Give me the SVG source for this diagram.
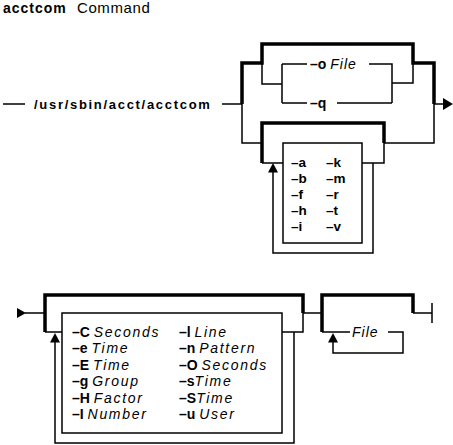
<svg xmlns="http://www.w3.org/2000/svg" width="453" height="445" viewBox="0 0 453 445">
<style>
.t{stroke:#000;stroke-width:1.5;fill:none}
.k{stroke:#000;stroke-width:3.5;fill:none;stroke-linejoin:miter}
.a{fill:#000}
text{font-family:"Liberation Sans",Arial,sans-serif;font-size:14px;fill:#000}
.b{font-weight:bold}
.i{font-style:italic;letter-spacing:1.7px}
.f{font-weight:bold;font-size:13.5px}
</style>
<rect width="453" height="445" fill="#fff"/>
<g id="title">
<text x="3" y="13" style="font-size:14px;letter-spacing:1px" class="b">acctcom</text>
<text x="77" y="13" style="font-size:15px;letter-spacing:0.6px">Command</text>
</g>
<g id="cmd"><text x="34" y="108.5" class="b" style="font-size:13px;letter-spacing:1.7px">/usr/sbin/acct/acctcom</text></g>
<g id="opt-o"><text x="310" y="69"><tspan class="b">–o</tspan> <tspan class="i" style="letter-spacing:1px">File</tspan></text></g>
<g id="opt-q"><text x="310" y="108" class="b">–q</text></g>
<g id="flags">
<rect x="283" y="143" width="79" height="100" class="t"/>
<text class="f" x="291" y="167">–a</text><text class="f" x="326" y="167">–k</text>
<text class="f" x="291" y="183">–b</text><text class="f" x="326" y="183">–m</text>
<text class="f" x="291" y="199">–f</text><text class="f" x="326" y="199">–r</text>
<text class="f" x="291" y="215">–h</text><text class="f" x="326" y="215">–t</text>
<text class="f" x="291" y="231">–i</text><text class="f" x="326" y="231">–v</text>
</g>
<g id="args">
<rect x="62" y="313" width="220" height="120" class="t"/>
<text x="72" y="336.5"><tspan class="b">–C</tspan> <tspan class="i">Seconds</tspan></text>
<text x="72" y="353"><tspan class="b">–e</tspan> <tspan class="i">Time</tspan></text>
<text x="72" y="369.5"><tspan class="b">–E</tspan> <tspan class="i">Time</tspan></text>
<text x="72" y="386"><tspan class="b">–g</tspan> <tspan class="i">Group</tspan></text>
<text x="72" y="402.5"><tspan class="b">–H</tspan> <tspan class="i">Factor</tspan></text>
<text x="72" y="419"><tspan class="b">–I</tspan> <tspan class="i">Number</tspan></text>
<text x="179" y="336.5"><tspan class="b">–l</tspan> <tspan class="i">Line</tspan></text>
<text x="179" y="353"><tspan class="b">–n</tspan> <tspan class="i">Pattern</tspan></text>
<text x="179" y="369.5"><tspan class="b">–O</tspan> <tspan class="i">Seconds</tspan></text>
<text x="179" y="386"><tspan class="b">–s</tspan><tspan class="i">Time</tspan></text>
<text x="179" y="402.5"><tspan class="b">–S</tspan><tspan class="i">Time</tspan></text>
<text x="179" y="419"><tspan class="b">–u</tspan> <tspan class="i">User</tspan></text>
</g>
<g id="file"><text x="352" y="337" class="i" style="letter-spacing:1px">File</text></g>
<g id="connectors">
<path class="t" d="M3,104H25M222,104H242"/>
<path class="k" d="M242,104V63H262V44H413V63H434V104"/>
<path class="t" d="M262,63V84H282M282,64V103M282,64H307M369,64H392V103M282,103H307M337,103H392M392,83H413V63"/>
<path class="t" d="M434,104H444"/>
<polygon class="a" points="443,98 453,104 443,110"/>
<path class="t" d="M242,104V143H262M384,143H434V104M384,143V163H362M262,163H283M273,172V253H373V163"/>
<path class="k" d="M262,163V123H384V143"/>
<polygon class="a" points="268,172.5 273,163 278,172.5"/>
<polygon class="a" points="17,308 26,313 17,318"/>
<path class="t" d="M25,313H45M303,313V332H282M45,332H62M55,342V443H294V332"/>
<path class="k" d="M45,332V295H303V313"/>
<polygon class="a" points="50,342.5 55,333 60,342.5"/>
<path class="t" d="M303,313H322M413,313H432M432,303V323M322,332H350M388,332H403V353H333V342"/>
<path class="k" d="M322,332V295H413V313"/>
<polygon class="a" points="328,342.5 333,333 338,342.5"/>
</g>
</svg>
